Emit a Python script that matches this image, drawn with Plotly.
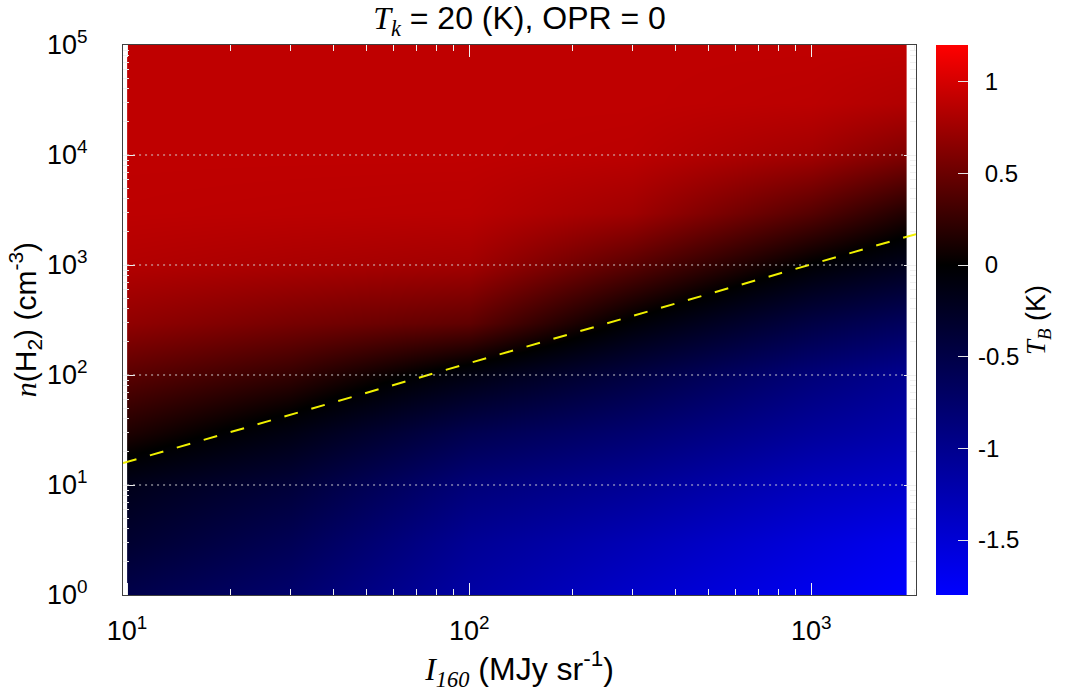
import numpy as np
import plotly.graph_objects as go

# ---------------- data ----------------
I_cols = [10, 30, 100, 300, 1000, 1900]                 # I_160 (MJy/sr) columns
n_rows = [1, 3, 10, 30, 100, 300, 1e3, 3e3, 1e4, 3e4, 1e5]  # n(H2) rows (cm^-3)
TB = [  # brightness temperature T_B (K), rows = n_rows, cols = I_cols
    [-0.53, -0.76, -1.16, -1.42, -1.68, -1.80],
    [-0.34, -0.60, -1.05, -1.28, -1.55, -1.68],
    [-0.18, -0.40, -0.85, -1.05, -1.33, -1.43],
    [0.14, -0.13, -0.56, -0.79, -1.09, -1.22],
    [0.42, 0.24, -0.12, -0.46, -0.85, -1.02],
    [0.68, 0.56, 0.45, -0.04, -0.48, -0.66],
    [0.84, 0.80, 0.76, 0.42, -0.02, -0.20],
    [0.89, 0.88, 0.87, 0.75, 0.40, 0.15],
    [0.90, 0.90, 0.90, 0.88, 0.76, 0.60],
    [0.90, 0.90, 0.90, 0.90, 0.88, 0.83],
    [0.90, 0.90, 0.90, 0.90, 0.90, 0.90],
]
I_line = [9.73, 2024]     # dashed yellow line (T_B = 0 boundary)
n_line = [15.8, 1910]

x_range = [9.73, 2024]
y_range = [1, 1e5]
x_ticks = [10, 100, 1000]
x_ticktext = ["10<sup>1</sup>", "10<sup>2</sup>", "10<sup>3</sup>"]
y_ticks = [1, 10, 100, 1000, 1e4, 1e5]
y_ticktext = ["10<sup>0</sup>", "10<sup>1</sup>", "10<sup>2</sup>",
              "10<sup>3</sup>", "10<sup>4</sup>", "10<sup>5</sup>"]
x_minor = [m * d for d in (10, 100) for m in range(2, 10)] + [2000]
y_minor = [m * d for d in (1, 10, 100, 1000, 1e4) for m in range(2, 10)]
cb_ticks = [-1.5, -1, -0.5, 0, 0.5, 1]
cb_ticktext = ["-1.5", "-1", "-0.5", "0", "0.5", "1"]
zmin, zmax = -1.8, 1.2

SANS = "Liberation Sans"
SERIF = "Liberation Serif"
lg = np.log10

# negative labels hang their minus sign to the left, as in the reference
cb_labels = [("\u2009" if t.startswith("-") else "\u2009\u00a0") + t for t in cb_ticktext]

fig = go.Figure()
fig.add_trace(go.Contour(
    x=lg(I_cols), y=lg(n_rows), z=TB,
    contours=dict(coloring="heatmap", showlines=False),
    line=dict(width=0),
    zmin=zmin, zmax=zmax,
    colorscale=[[0, "rgb(0,0,255)"], [(0 - zmin) / (zmax - zmin), "rgb(0,0,0)"], [1, "rgb(255,0,0)"]],
    hoverinfo="skip",
    colorbar=dict(
        x=1.0252, xanchor="left", xpad=0,
        y=0.5, yanchor="middle", len=1, lenmode="fraction", ypad=0,
        thickness=32, outlinewidth=0,
        ticks="inside", ticklen=10, tickcolor="#e6e6e6", tickwidth=1,
        tickmode="array", tickvals=cb_ticks, ticktext=cb_labels,
        tickfont=dict(family=SANS, size=24, color="black"),
        title=dict(text=f'<span style="font-family:{SERIF}"><i>T<sub>B</sub></i></span> (K)',
                   side="right", font=dict(family=SANS, size=27, color="black")),
    ),
))

fig.add_trace(go.Scatter(
    x=lg(I_line), y=lg(n_line), mode="lines",
    line=dict(color="rgb(240,240,0)", width=2, dash="14px,14px"),
    hoverinfo="skip", showlegend=False, cliponaxis=False,
))

# dotted horizontal grid lines drawn above the colour map
for v in y_ticks[1:-1]:
    fig.add_shape(type="line", xref="x", yref="y",
                  x0=lg(I_cols[0]), x1=lg(I_cols[-1]), y0=lg(v), y1=lg(v),
                  line=dict(color="rgba(215,215,215,0.95)", width=1.2, dash="2px,4px"),
                  layer="above")

axis_common = dict(
    showgrid=False, zeroline=False,
    showline=True, linecolor="#404040", linewidth=1, mirror="ticks",
    ticks="inside", ticklen=12, tickwidth=1, tickcolor="#f0f0f0",
    tickfont=dict(family=SANS, size=27, color="black"),
    tickmode="array",
)

fig.update_layout(
    width=1067, height=700,
    margin=dict(l=123, r=149, t=45, b=105),
    paper_bgcolor="white", plot_bgcolor="white",
    showlegend=False,
    title=dict(text=f'<span style="font-family:{SERIF}"><i>T<sub>k</sub></i></span> = 20 (K), OPR = 0',
               x=0.5, xref="paper", xanchor="center", y=1 - 18 / 700, yanchor="middle",
               font=dict(family=SANS, size=32, color="black")),
    xaxis=dict(
        axis_common, range=list(lg(x_range)),
        tickvals=list(lg(x_ticks)), ticktext=x_ticktext, ticklabelstandoff=12,
        minor=dict(tickmode="array", tickvals=list(lg(x_minor)), ticks="inside",
                   ticklen=6, tickcolor="#f0f0f0", tickwidth=1),
        title=dict(text=f'<span style="font-family:{SERIF}"><i>I<sub>160</sub></i></span> (MJy sr<sup>-1</sup>)',
                   font=dict(family=SANS, size=32, color="black"), standoff=8),
    ),
    yaxis=dict(
        axis_common, range=list(lg(y_range)),
        tickvals=list(lg(y_ticks)), ticktext=y_ticktext, ticklabelstandoff=29,
        minor=dict(tickmode="array", tickvals=list(lg(y_minor)), ticks="inside",
                   ticklen=6, tickcolor="#f0f0f0", tickwidth=1),
    ),
    annotations=[dict(
        text=f'<span style="font-family:{SERIF}"><i>n</i></span>(H<sub>2</sub>) (cm<sup>-3</sup>)',
        xref="paper", yref="paper", x=(25 - 123) / 795, y=0.5,
        xanchor="center", yanchor="middle", textangle=-90, showarrow=False,
        font=dict(family=SANS, size=30, color="black"),
    )],
)

fig.write_html("out.html")
